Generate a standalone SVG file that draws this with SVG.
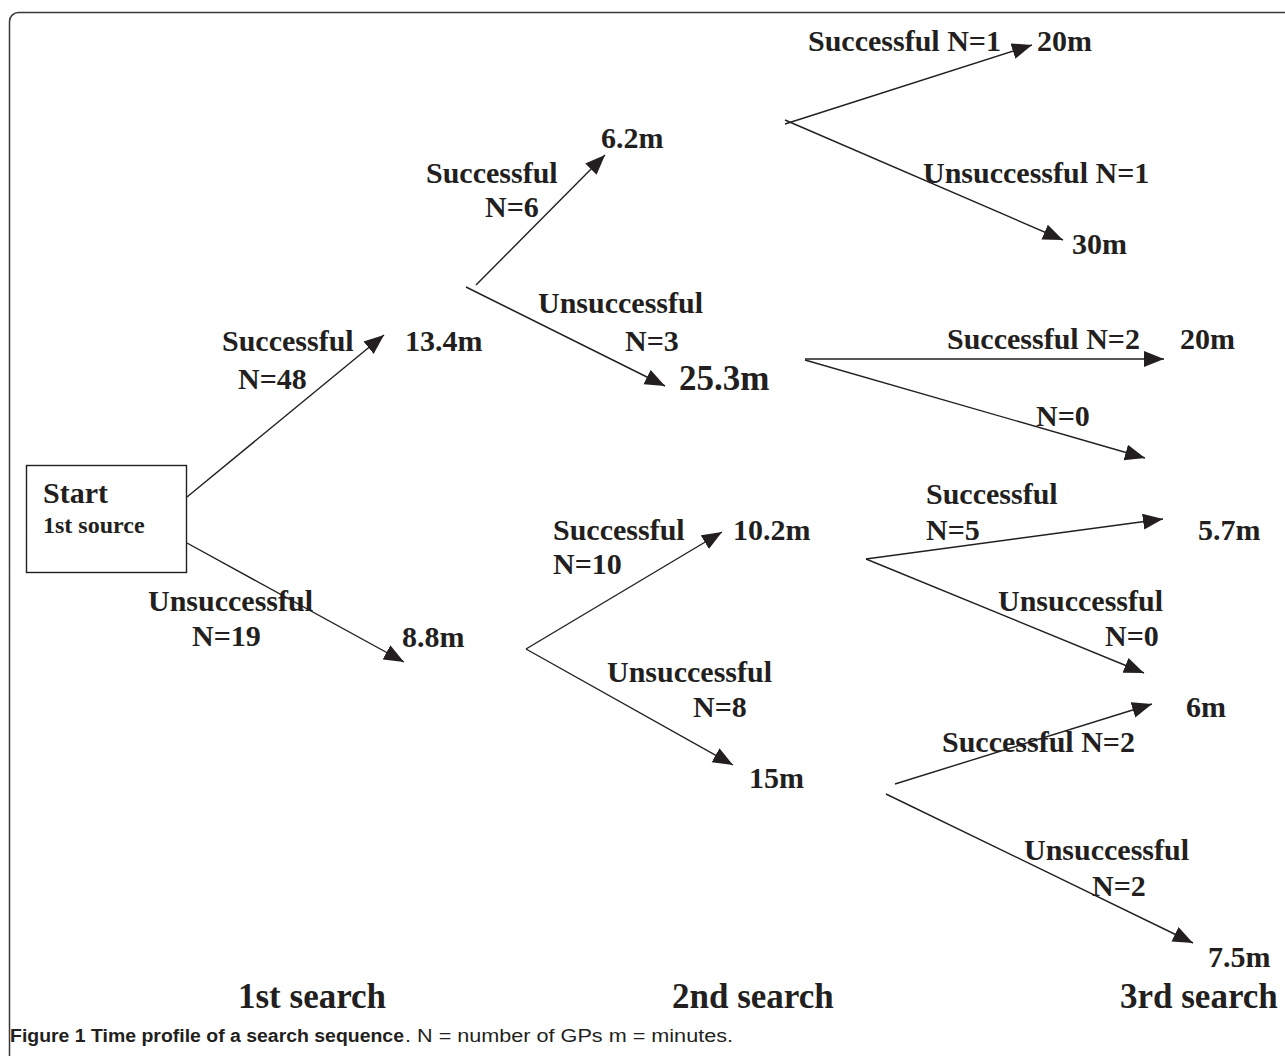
<svg xmlns="http://www.w3.org/2000/svg" width="1285" height="1056" viewBox="0 0 1285 1056">
<style>
.lbl{font-family:"Liberation Serif","Times New Roman",serif;font-weight:bold;font-size:30px;fill:#231f20}
.big{font-size:35px}
.hdr{font-family:"Liberation Serif","Times New Roman",serif;font-weight:bold;font-size:35px;fill:#231f20}
.edge{stroke:#231f20;stroke-width:1.4;fill:none}
.cap{font-family:"Liberation Sans",Arial,sans-serif;font-size:18px;fill:#231f20}
</style>
<defs>
<marker id="ah" markerUnits="userSpaceOnUse" markerWidth="21" markerHeight="17" refX="20" refY="8" orient="auto">
<path d="M0,0 L20,8 L0,16 z" fill="#231f20"/>
</marker>
</defs>
<rect x="9.5" y="12.5" width="1320" height="1100" rx="9" ry="9" fill="#fff" stroke="#3a3a3a" stroke-width="1.5"/>

<g id="connectors">
<line class="edge" x1="187" y1="497" x2="384" y2="335" marker-end="url(#ah)"/>
<line class="edge" x1="187" y1="543" x2="404" y2="662" marker-end="url(#ah)"/>
<line class="edge" x1="476" y1="285" x2="605" y2="155" marker-end="url(#ah)"/>
<line class="edge" x1="466" y1="287" x2="665" y2="386" marker-end="url(#ah)"/>
<line class="edge" x1="785" y1="124" x2="1032" y2="45" marker-end="url(#ah)"/>
<line class="edge" x1="785" y1="120" x2="1063" y2="240" marker-end="url(#ah)"/>
<line class="edge" x1="805" y1="359" x2="1164" y2="359" marker-end="url(#ah)"/>
<line class="edge" x1="805" y1="360" x2="1145" y2="458" marker-end="url(#ah)"/>
<line class="edge" x1="526" y1="649" x2="722" y2="532" marker-end="url(#ah)"/>
<line class="edge" x1="526" y1="649" x2="733" y2="765" marker-end="url(#ah)"/>
<line class="edge" x1="866" y1="559" x2="1163" y2="519" marker-end="url(#ah)"/>
<line class="edge" x1="866" y1="559" x2="1144" y2="673" marker-end="url(#ah)"/>
<line class="edge" x1="895" y1="784" x2="1152" y2="704" marker-end="url(#ah)"/>
<line class="edge" x1="886" y1="794" x2="1193" y2="943" marker-end="url(#ah)"/>
</g>

<g id="start">
<rect x="26.5" y="465.5" width="160" height="107" fill="none" stroke="#231f20" stroke-width="1.4"/>
<text class="lbl" x="43" y="503">Start</text>
<text class="lbl" x="43" y="533" style="font-size:24px">1st source</text>
</g>

<g id="labels-first">
<text class="lbl" x="222" y="351">Successful</text>
<text class="lbl" x="238" y="389">N=48</text>
<text class="lbl" x="148" y="611">Unsuccessful</text>
<text class="lbl" x="192" y="646">N=19</text>
</g>

<g id="node-13-4"><text class="lbl" x="405" y="351">13.4m</text></g>
<g id="node-8-8"><text class="lbl" x="402" y="647">8.8m</text></g>

<g id="labels-second">
<text class="lbl" x="426" y="183">Successful</text>
<text class="lbl" x="485" y="217">N=6</text>
<text class="lbl" x="538" y="313">Unsuccessful</text>
<text class="lbl" x="625" y="351">N=3</text>
<text class="lbl" x="553" y="540">Successful</text>
<text class="lbl" x="553" y="574">N=10</text>
<text class="lbl" x="607" y="682">Unsuccessful</text>
<text class="lbl" x="693" y="717">N=8</text>
</g>

<g id="node-6-2"><text class="lbl" x="601" y="148">6.2m</text></g>
<g id="node-25-3"><text class="lbl big" x="679" y="390">25.3m</text></g>
<g id="node-10-2"><text class="lbl" x="733" y="540">10.2m</text></g>
<g id="node-15"><text class="lbl" x="749" y="788">15m</text></g>

<g id="labels-third">
<text class="lbl" x="808" y="51">Successful N=1</text>
<text class="lbl" x="923" y="183">Unsuccessful N=1</text>
<text class="lbl" x="947" y="349">Successful N=2</text>
<text class="lbl" x="1036" y="426">N=0</text>
<text class="lbl" x="926" y="504">Successful</text>
<text class="lbl" x="926" y="540">N=5</text>
<text class="lbl" x="998" y="611">Unsuccessful</text>
<text class="lbl" x="1105" y="646">N=0</text>
<text class="lbl" x="942" y="752">Successful N=2</text>
<text class="lbl" x="1024" y="860">Unsuccessful</text>
<text class="lbl" x="1092" y="896">N=2</text>
</g>

<g id="node-20m-a"><text class="lbl" x="1037" y="51">20m</text></g>
<g id="node-30m"><text class="lbl" x="1072" y="254">30m</text></g>
<g id="node-20m-b"><text class="lbl" x="1180" y="349">20m</text></g>
<g id="node-5-7"><text class="lbl" x="1198" y="540">5.7m</text></g>
<g id="node-6m"><text class="lbl" x="1186" y="717">6m</text></g>
<g id="node-7-5"><text class="lbl" x="1208" y="967">7.5m</text></g>

<g id="headers">
<text class="hdr" x="238" y="1008">1st search</text>
<text class="hdr" x="672" y="1008">2nd search</text>
<text class="hdr" x="1120" y="1008">3rd search</text>
</g>

<g id="caption">
<text class="cap" x="10" y="1042" font-weight="bold" textLength="394" lengthAdjust="spacingAndGlyphs">Figure 1 Time profile of a search sequence</text>
<text class="cap" x="405" y="1042" textLength="328" lengthAdjust="spacingAndGlyphs">. N = number of GPs m = minutes.</text>
</g>
</svg>
